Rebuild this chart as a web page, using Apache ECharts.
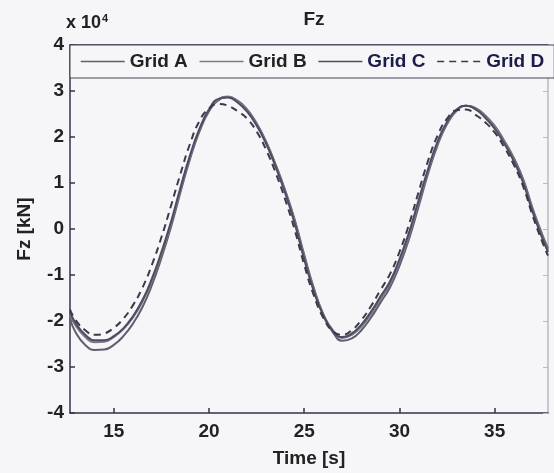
<!DOCTYPE html>
<html>
<head>
<meta charset="utf-8">
<script src="https://cdn.jsdelivr.net/npm/echarts@6/dist/echarts.min.js"></script>
<style>
html,body{margin:0;padding:0;background:#f6f6f8;}
#c{width:554px;height:473px;}
</style>
</head>
<body>
<div id="c"></div>
<script>
// Time [s]
const time = [12.7,13.0,13.5,14.0,14.5,15.0,15.5,16.0,16.5,17.0,17.5,18.0,18.5,19.0,19.5,20.0,20.5,21.0,21.5,22.0,22.5,23.0,23.5,24.0,24.5,25.0,25.5,26.0,26.5,27.0,27.5,28.0,28.5,29.0,29.5,30.0,30.5,31.0,31.5,32.0,32.5,33.0,33.5,34.0,34.5,35.0,35.5,36.0,36.5,37.0,37.5,37.8];
// Fz in units of 10^4 kN
const gridA = [-1.95,-2.25,-2.52,-2.63,-2.62,-2.52,-2.33,-2.06,-1.70,-1.22,-0.63,0.04,0.80,1.52,2.12,2.56,2.80,2.87,2.79,2.60,2.30,1.90,1.40,0.84,0.20,-0.56,-1.28,-1.86,-2.24,-2.43,-2.38,-2.20,-1.93,-1.60,-1.27,-0.80,-0.22,0.48,1.20,1.82,2.28,2.57,2.68,2.63,2.47,2.24,1.92,1.55,1.08,0.44,-0.12,-0.42];
const gridB = [-1.85,-2.10,-2.35,-2.46,-2.45,-2.35,-2.18,-1.93,-1.58,-1.12,-0.55,0.10,0.85,1.55,2.15,2.58,2.82,2.88,2.78,2.58,2.28,1.88,1.38,0.82,0.18,-0.60,-1.30,-1.85,-2.20,-2.37,-2.30,-2.12,-1.85,-1.52,-1.20,-0.72,-0.15,0.55,1.25,1.85,2.30,2.58,2.68,2.62,2.45,2.22,1.90,1.52,1.05,0.40,-0.15,-0.45];
const gridC = [-1.80,-2.05,-2.30,-2.42,-2.42,-2.33,-2.16,-1.90,-1.55,-1.08,-0.50,0.15,0.90,1.60,2.18,2.60,2.83,2.86,2.75,2.55,2.25,1.85,1.35,0.78,0.12,-0.66,-1.35,-1.88,-2.22,-2.35,-2.27,-2.08,-1.80,-1.47,-1.14,-0.66,-0.08,0.62,1.30,1.90,2.33,2.60,2.68,2.60,2.42,2.18,1.86,1.48,1.00,0.36,-0.20,-0.50];
const gridD = [-1.75,-1.98,-2.20,-2.30,-2.27,-2.15,-1.95,-1.66,-1.28,-0.78,-0.18,0.50,1.20,1.85,2.35,2.62,2.72,2.68,2.56,2.40,2.12,1.72,1.22,0.64,-0.02,-0.78,-1.44,-1.93,-2.22,-2.30,-2.20,-1.98,-1.68,-1.33,-0.98,-0.50,0.10,0.80,1.48,2.03,2.40,2.58,2.60,2.48,2.32,2.10,1.78,1.40,0.92,0.28,-0.28,-0.58];
const seriesNames = ['Grid A','Grid B','Grid C','Grid D'];
const xTicks = [15,20,25,30,35];

const FONT = '"Liberation Sans", Arial, Helvetica, sans-serif';
const pair = arr => time.map((t,i)=>[t,arr[i]]);
const colors = ['#5e5e6e','#7a7a86','#4c4c62','#3a3a4a'];
const dataSets = [gridA,gridB,gridC,gridD];

const chart = echarts.init(document.getElementById('c'), null, {renderer:'canvas'});
const axisLineStyle = {color:'#33334a', width:1.5};
const option = {
  backgroundColor:'#f6f6f8',
  animation:false,
  title:{text:'Fz', left:309, textAlign:'center', top:5,
    textStyle:{fontFamily:FONT,fontSize:19,fontWeight:'bold',color:'#222'}},
  graphic:[{
    type:'text', left:66, top:13,
    style:{text:'{a|x 10}{b|4}', rich:{
      a:{fontFamily:FONT,fontSize:18,fontWeight:'bold',fill:'#222'},
      b:{fontFamily:FONT,fontSize:11,fontWeight:'bold',fill:'#222',verticalAlign:'top',padding:[0,0,10,1]}
    }}
  }],
  legend:{
    data:[
      {name:'Grid A', textStyle:{color:'#222'}},
      {name:'Grid B', textStyle:{color:'#222'}},
      {name:'Grid C', textStyle:{color:'#1c1c4a'}},
      {name:'Grid D', textStyle:{color:'#1c1c4a'}}
    ],
    left:70, top:45, width:700, orient:'horizontal',
    padding:[7,10,7,10], itemGap:11, itemWidth:44, itemHeight:19,
    borderColor:'#444455', borderWidth:1, backgroundColor:'#f6f6f8',
    itemStyle:{opacity:0},
    lineStyle:{width:1.5},
    textStyle:{fontFamily:FONT,fontSize:19,fontWeight:'bold',padding:[0,0,0,0]},
    z:10
  },
  grid:{left:70, right:6, top:45, bottom:55, containLabel:false},
  xAxis:[{
    type:'value', min:12.7, max:37.8, position:'bottom',
    name:'Time [s]', nameLocation:'middle', nameGap:36,
    nameTextStyle:{fontFamily:FONT,fontSize:19,fontWeight:'bold',color:'#222'},
    axisLine:{show:true,onZero:false,lineStyle:axisLineStyle},
    axisTick:{show:true,inside:true,length:5,customValues:xTicks,lineStyle:axisLineStyle},
    axisLabel:{customValues:xTicks,fontFamily:FONT,fontSize:19,fontWeight:'bold',color:'#222',margin:9},
    splitLine:{show:false}
  },{
    type:'value', min:12.7, max:37.8, position:'top',
    axisLine:{show:true,onZero:false,lineStyle:axisLineStyle},
    axisTick:{show:true,inside:true,length:5,customValues:xTicks,lineStyle:axisLineStyle},
    axisLabel:{show:false}, splitLine:{show:false}
  }],
  yAxis:[{
    type:'value', min:-4, max:4, interval:1, position:'left',
    name:'Fz [kN]', nameLocation:'middle', nameGap:36, nameRotate:90,
    nameTextStyle:{fontFamily:FONT,fontSize:19,fontWeight:'bold',color:'#222'},
    axisLine:{show:true,onZero:false,lineStyle:axisLineStyle},
    axisTick:{show:true,inside:true,length:5,lineStyle:axisLineStyle},
    axisLabel:{fontFamily:FONT,fontSize:19,fontWeight:'bold',color:'#222',margin:6,
      formatter:v=>String(v)},
    splitLine:{show:false}
  },{
    type:'value', min:-4, max:4, interval:1, position:'right',
    axisLine:{show:true,onZero:false,lineStyle:{color:'#b8b8c8',width:1.5}},
    axisTick:{show:true,inside:true,length:5,lineStyle:{color:'#b8b8c8'}},
    axisLabel:{show:false}, splitLine:{show:false}
  }],
  series: seriesNames.map((n,i)=>({
    name:n, type:'line', data:pair(dataSets[i]), smooth:true,
    symbol:'none', showSymbol:false, clip:true,
    lineStyle:{color:colors[i], width:2, type: i===3 ? [7,5] : 'solid'},
    itemStyle:{color:colors[i]}
  }))
};
chart.setOption(option);
</script>
</body>
</html>
